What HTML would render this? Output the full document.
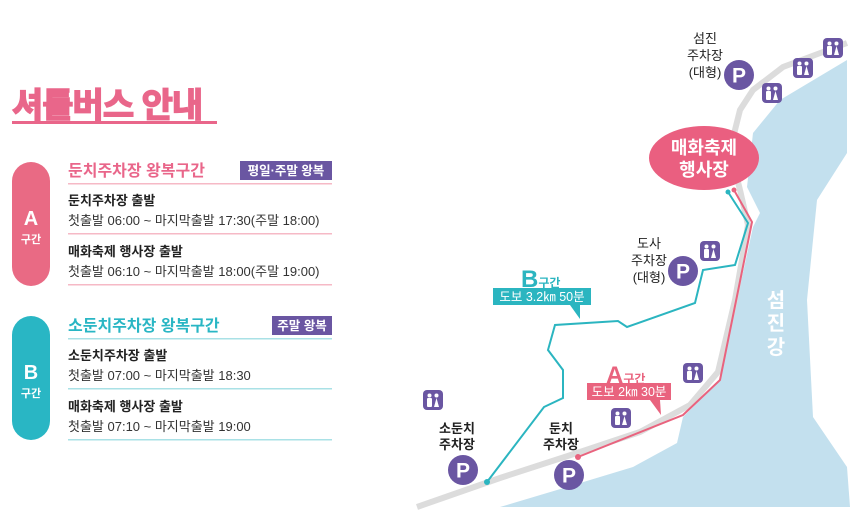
<!DOCTYPE html>
<html><head><meta charset="utf-8"><style>
html,body{margin:0;padding:0;background:#fff;}
svg{display:block;font-family:"Liberation Sans","Noto Sans CJK KR",sans-serif;}
</style></head><body>
<svg width="850" height="528" viewBox="0 0 850 528" xmlns="http://www.w3.org/2000/svg">
<defs>
<g id="toi"><rect x="-10" y="-10" width="20" height="20" rx="4" fill="#6a56a2"/>
<circle cx="-3.5" cy="-4.5" r="2" fill="#fff"/><circle cx="3.5" cy="-4.5" r="2" fill="#fff"/>
<rect x="-6" y="-2" width="5" height="9" rx="1" fill="#fff"/><path d="M1 7 L3.5 -2 L6 7Z" fill="#fff"/></g>
<g id="park"><circle r="15" fill="#6a56a2"/><text y="7.5" text-anchor="middle" font-size="21" font-weight="bold" fill="#fff">P</text></g>
</defs>
<!-- Left panel -->
<text x="12" y="117" font-size="34" font-weight="bold" fill="#e9668a" stroke="#e9668a" stroke-width="1.5" letter-spacing="-1">셔틀버스 안내</text>
<rect x="12" y="121" width="205" height="3" fill="#e9668a"/>

<rect x="12" y="162" width="38" height="124" rx="19" fill="#e96a84"/>
<text x="31" y="225" text-anchor="middle" font-size="20" font-weight="bold" fill="#fff">A</text>
<text x="31" y="243" text-anchor="middle" font-size="11" font-weight="bold" fill="#fff">구간</text>
<text x="68" y="176" font-size="16" fill="#e9668a" font-weight="bold">둔치주차장 왕복구간</text>
<rect x="240" y="161" width="92" height="19" fill="#6a56a2"/>
<text x="286" y="175" text-anchor="middle" font-size="12.5" font-weight="bold" fill="#fff">평일·주말 왕복</text>
<rect x="68" y="183" width="264" height="1.5" fill="#f6b9c6"/>
<rect x="68" y="233" width="264" height="1.5" fill="#f6b9c6"/>
<rect x="68" y="284" width="264" height="1.5" fill="#f6b9c6"/>
<text x="68" y="205" font-size="13" font-weight="bold" fill="#222">둔치주차장 출발</text>
<text x="68" y="225" font-size="13" fill="#333">첫출발 06:00 ~ 마지막출발 17:30(주말 18:00)</text>
<text x="68" y="256" font-size="13" font-weight="bold" fill="#222">매화축제 행사장 출발</text>
<text x="68" y="276" font-size="13" fill="#333">첫출발 06:10 ~ 마지막출발 18:00(주말 19:00)</text>

<rect x="12" y="316" width="38" height="124" rx="19" fill="#29b6c4"/>
<text x="31" y="379" text-anchor="middle" font-size="20" font-weight="bold" fill="#fff">B</text>
<text x="31" y="397" text-anchor="middle" font-size="11" font-weight="bold" fill="#fff">구간</text>
<text x="68" y="331" font-size="16" fill="#29b6c4" font-weight="bold">소둔치주차장 왕복구간</text>
<rect x="272" y="316" width="60" height="19" fill="#6a56a2"/>
<text x="302" y="330" text-anchor="middle" font-size="12.5" font-weight="bold" fill="#fff">주말 왕복</text>
<rect x="68" y="338" width="264" height="1.5" fill="#a9e1e6"/>
<rect x="68" y="388" width="264" height="1.5" fill="#a9e1e6"/>
<rect x="68" y="439" width="264" height="1.5" fill="#a9e1e6"/>
<text x="68" y="360" font-size="13" font-weight="bold" fill="#222">소둔치주차장 출발</text>
<text x="68" y="380" font-size="13" fill="#333">첫출발 07:00 ~ 마지막출발 18:30</text>
<text x="68" y="411" font-size="13" font-weight="bold" fill="#222">매화축제 행사장 출발</text>
<text x="68" y="431" font-size="13" fill="#333">첫출발 07:10 ~ 마지막출발 19:00</text>

<!-- Map -->
<path d="M500 507 L557 490 L633 467 L677 443 L683 417 L720 380 L737 300 L753 227 L760 213 L747 187 L753 133 L780 100 L847 60 L847 153 L817 200 L807 300 L813 417 L847 467 L850 507Z" fill="#c3e0ee"/>
<polyline points="417,507 500,478 580,452 640,432 690,405 718,372 735,300 748,225 740,190 730,150 740,110 753,90 783,67 847,43" fill="none" stroke="#dcdcdc" stroke-width="6"/>
<polyline points="487,482 544,407 563,398 563,370 548,350 555,325 618,321 627,327 695,303 703,270 735,265 748,223 728,192" fill="none" stroke="#2bb5c0" stroke-width="2"/>
<polyline points="578,457 683,415 720,380 752,222 734,190" fill="none" stroke="#e9637e" stroke-width="2"/>
<circle cx="487" cy="482" r="3" fill="#2bb5c0"/><circle cx="578" cy="457" r="3" fill="#e9637e"/>
<circle cx="728" cy="192" r="2.5" fill="#2bb5c0"/><circle cx="734" cy="190" r="2.5" fill="#e9637e"/>
<ellipse cx="704" cy="158" rx="55" ry="32" fill="#ea5f80"/>
<text x="704" y="154" text-anchor="middle" font-size="18" font-weight="bold" fill="#fff">매화축제</text>
<text x="704" y="176" text-anchor="middle" font-size="18" font-weight="bold" fill="#fff">행사장</text>

<use href="#park" x="739" y="75"/><use href="#park" x="683" y="271"/>
<use href="#park" x="463" y="470"/><use href="#park" x="569" y="475"/>
<use href="#toi" x="833" y="48"/><use href="#toi" x="803" y="68"/><use href="#toi" x="772" y="93"/>
<use href="#toi" x="710" y="251"/><use href="#toi" x="693" y="373"/><use href="#toi" x="621" y="418"/><use href="#toi" x="433" y="400"/>

<g font-size="13" fill="#222" text-anchor="middle">
<text x="705" y="43">섬진</text><text x="705" y="60">주차장</text><text x="705" y="77">(대형)</text>
<text x="649" y="248">도사</text><text x="649" y="265">주차장</text><text x="649" y="282">(대형)</text>
<text x="457" y="433" font-weight="bold">소둔치</text><text x="457" y="449" font-weight="bold">주차장</text>
<text x="561" y="433" font-weight="bold">둔치</text><text x="561" y="449" font-weight="bold">주차장</text>
</g>

<text x="521" y="287" font-size="24" font-weight="bold" fill="#2bb5c0">B<tspan font-size="12">구간</tspan></text>
<rect x="493" y="288" width="98" height="17" fill="#2bb5c0"/>
<path d="M570 305 L580 319 L580 305Z" fill="#2bb5c0"/>
<text x="542" y="301" text-anchor="middle" font-size="12.5" fill="#fff">도보 3.2㎞ 50분</text>

<text x="606" y="383" font-size="24" font-weight="bold" fill="#e9637e">A<tspan font-size="12">구간</tspan></text>
<rect x="587" y="383" width="84" height="17" fill="#e9637e"/>
<path d="M650 400 L661 415 L660 400Z" fill="#e9637e"/>
<text x="629" y="396" text-anchor="middle" font-size="12.5" fill="#fff">도보 2㎞ 30분</text>

<g font-size="20" font-weight="bold" fill="#fff" text-anchor="middle">
<text x="776" y="307">섬</text><text x="776" y="330">진</text><text x="776" y="354">강</text></g>
</svg>
</body></html>
